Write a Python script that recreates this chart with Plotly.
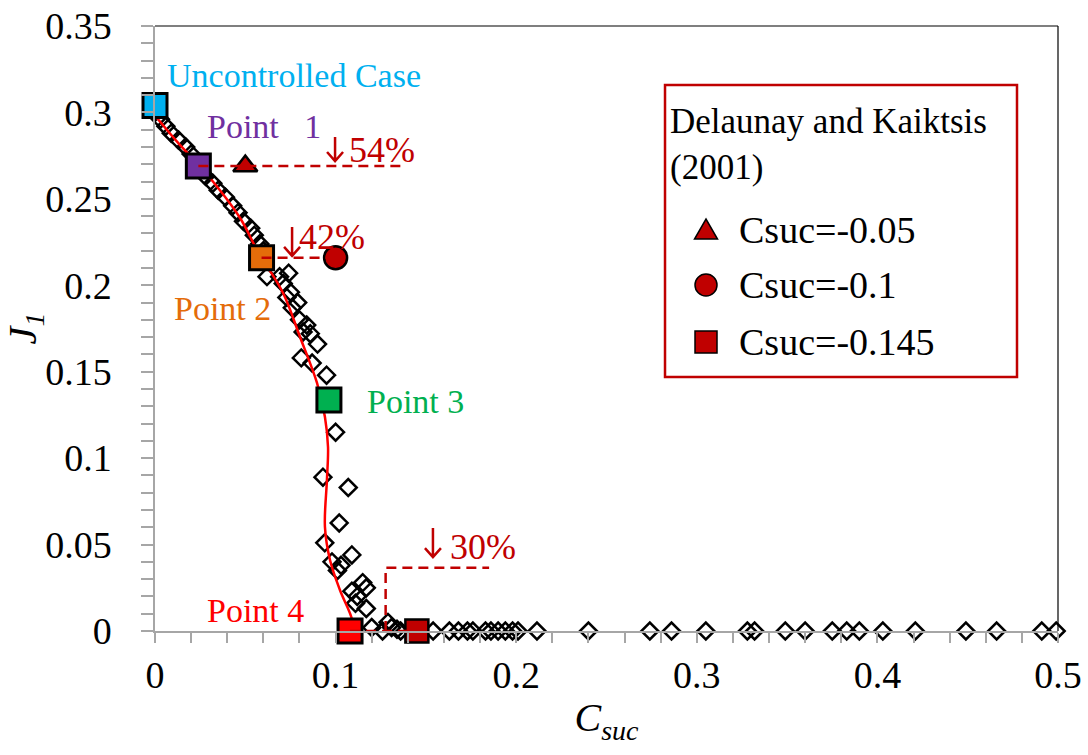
import plotly.graph_objects as go

# Measured J1 versus suction coefficient (open diamonds)
csuc_meas = [0.000, 0.003, 0.006, 0.009, 0.013, 0.017, 0.020, 0.024, 0.028, 0.032,
             0.035, 0.039, 0.043, 0.046, 0.049, 0.053, 0.055, 0.058, 0.060,
             0.062, 0.069, 0.074, 0.071, 0.075, 0.073, 0.079, 0.076, 0.080, 0.084,
             0.082, 0.086, 0.090, 0.081, 0.087, 0.095,
             0.100, 0.093, 0.107, 0.102, 0.094, 0.109, 0.098, 0.103, 0.101, 0.115,
             0.117, 0.109, 0.112, 0.117, 0.111, 0.120, 0.129, 0.126, 0.134, 0.131, 0.136,
             0.154, 0.163, 0.168, 0.173, 0.176, 0.183, 0.186, 0.190, 0.194, 0.198,
             0.201, 0.2115, 0.240, 0.274, 0.286, 0.305, 0.328, 0.332, 0.349, 0.360,
             0.375, 0.383, 0.390, 0.403, 0.421, 0.449, 0.466, 0.491, 0.499]
j1_meas = [0.300, 0.296, 0.292, 0.288, 0.284, 0.280, 0.276, 0.270, 0.263, 0.259,
           0.255, 0.251, 0.246, 0.242, 0.237, 0.233, 0.229, 0.224, 0.220,
           0.205, 0.205, 0.207, 0.201, 0.196, 0.193, 0.190, 0.187, 0.180, 0.177,
           0.173, 0.172, 0.166, 0.158, 0.155, 0.148,
           0.115, 0.089, 0.083, 0.0625, 0.051, 0.044, 0.040, 0.038, 0.035, 0.028,
           0.025, 0.023, 0.020, 0.013, 0.016, 0.002, 0.005, 0.000, 0.001, 0.002, 0.000,
           0, 0, 0, 0, 0, 0, 0, 0, 0, 0,
           0, 0, 0, 0, 0, 0, 0, 0, 0, 0,
           0, 0, 0, 0, 0, 0, 0, 0, 0]

# Fitted trend (red curve)
csuc_fit = [0.0011, 0.0138, 0.0277, 0.0471, 0.0565, 0.0709, 0.0803, 0.0897,
            0.0941, 0.0958, 0.0952, 0.0941, 0.0969, 0.1024, 0.1091, 0.1085]
j1_fit = [0.2968, 0.2812, 0.2655, 0.2389, 0.2204, 0.1955, 0.1701, 0.1435,
          0.1238, 0.1064, 0.0874, 0.0602, 0.0411, 0.0237, 0.0064, 0.0030]

# Highlighted operating points
point_names = ["Uncontrolled Case", "Point 1", "Point 2", "Point 3", "Point 4"]
point_csuc = [0.000, 0.024, 0.059, 0.0963, 0.108]
point_j1 = [0.304, 0.269, 0.216, 0.1336, 0.000]
point_colors = ["#00B0F0", "#7030A0", "#E46C0A", "#00B050", "#FF0000"]

# Delaunay and Kaiktsis (2001) reference cases
dk_labels = ["Csuc=-0.05", "Csuc=-0.1", "Csuc=-0.145"]
dk_csuc = [0.05, 0.10, 0.145]
dk_j1 = [0.269, 0.216, 0.000]
dk_symbols = ["triangle-up", "circle", "square"]
dk_sizes = [21, 23, 23]

# Reduction percentages
reductions = ["54%", "42%", "30%"]

DARK_RED = "#C00000"
FONT = "Liberation Serif"

fig = go.Figure()

fig.add_trace(go.Scatter(
    x=csuc_meas, y=j1_meas, mode="markers", showlegend=False, cliponaxis=False,
    marker=dict(symbol="diamond-open", size=13, color="black",
                line=dict(width=2.5, color="black")),
))

fig.add_trace(go.Scatter(
    x=csuc_fit, y=j1_fit, mode="lines", showlegend=False,
    line=dict(color="#FF0000", width=2.5, shape="spline", smoothing=1.0),
))

fig.add_trace(go.Scatter(
    x=point_csuc, y=point_j1, mode="markers", showlegend=False, cliponaxis=False,
    marker=dict(symbol="square", size=24, color=point_colors,
                line=dict(width=3, color="black")),
))

for lab, xv, yv, sym, sz in zip(dk_labels, dk_csuc, dk_j1, dk_symbols, dk_sizes):
    fig.add_trace(go.Scatter(
        x=[xv], y=[yv], mode="markers", name=lab, showlegend=False, cliponaxis=False,
        marker=dict(symbol=sym, size=sz, color=DARK_RED,
                    line=dict(width=2.5, color="black")),
    ))

# Dashed guide lines between controlled cases and the reference cases
dash_style = dict(color=DARK_RED, width=2.5, dash="10px,6px")
guide1_x = [point_csuc[1], 0.1384]
guide1_y = [point_j1[1], point_j1[1]]
guide2_x = [point_csuc[2], dk_csuc[1]]
guide2_y = [point_j1[2], dk_j1[1]]
guide3_x = [point_csuc[4], dk_csuc[2]]
guide3_y = [point_j1[4], dk_j1[2]]
guide4_x = [0.1277, 0.1277, 0.1850]
guide4_y = [0.000, 0.0366, 0.0366]
for gx, gy in [(guide1_x, guide1_y), (guide2_x, guide2_y),
               (guide3_x, guide3_y), (guide4_x, guide4_y)]:
    fig.add_trace(go.Scatter(x=gx, y=gy, mode="lines", showlegend=False,
                             cliponaxis=False, line=dash_style))

# Point labels
label_pos = [(0.0055, 0.3216, "Uncontrolled Case"),
             (0.0277, 0.2921, "Point\u00a0\u00a0 1"),
             (0.0094, 0.1863, "Point 2"),
             (0.1163, 0.1325, "Point 3"),
             (0.0277, 0.0121, "Point 4")]
for (lx, ly, txt), col in zip(label_pos, point_colors):
    fig.add_annotation(x=lx, y=ly, text=txt, showarrow=False, xanchor="left",
                       yanchor="middle", font=dict(family=FONT, size=34, color=col))

# Reduction labels: a downward arrow (drawn from its tip upwards) and the percentage
arrow_tips = [(0.0997, 0.2713, 25), (0.0759, 0.2164, 30), (0.1539, 0.0422, 30)]
pct_pos = [(0.1063, 0.2783), (0.0786, 0.2279), (0.1622, 0.0486)]
for (axx, axy, length), (px, py), txt in zip(arrow_tips, pct_pos, reductions):
    fig.add_shape(type="path", xref="x", yref="y", xsizemode="pixel",
                  ysizemode="pixel", xanchor=axx, yanchor=axy,
                  path=f"M0,{length} L0,1 M-8,10 L0,1 L8,10",
                  line=dict(color=DARK_RED, width=2.5))
    fig.add_annotation(x=px, y=py, text=txt, showarrow=False,
                       xanchor="left", yanchor="middle",
                       font=dict(family=FONT, size=36, color=DARK_RED))

# Legend box for the Delaunay and Kaiktsis cases
fig.add_shape(type="rect", xref="paper", yref="paper",
              x0=0.5648, x1=0.9546, y0=0.4198, y1=0.9025,
              line=dict(color=DARK_RED, width=2.5), fillcolor="white", layer="below")
fig.add_annotation(xref="paper", yref="paper", x=0.568, y=0.878,
                   text="Delaunay and Kaiktsis<br>(2001)", showarrow=False,
                   xanchor="left", yanchor="top", align="left",
                   font=dict(family=FONT, size=35, color="black"))
leg_sym_x = 0.6102
leg_text_x = 0.6445
leg_rows = [0.6628, 0.5719, 0.4777]
fig.add_shape(type="path", xref="paper", yref="paper", xsizemode="pixel",
              ysizemode="pixel", xanchor=leg_sym_x, yanchor=leg_rows[0],
              path="M-11.5,-9 L11.5,-9 L0,11 Z", fillcolor=DARK_RED,
              line=dict(color="black", width=1.5))
fig.add_shape(type="circle", xref="paper", yref="paper", xsizemode="pixel",
              ysizemode="pixel", xanchor=leg_sym_x, yanchor=leg_rows[1],
              x0=-11, x1=11, y0=-11, y1=11, fillcolor=DARK_RED,
              line=dict(color="black", width=1.5))
fig.add_shape(type="rect", xref="paper", yref="paper", xsizemode="pixel",
              ysizemode="pixel", xanchor=leg_sym_x, yanchor=leg_rows[2],
              x0=-11, x1=11, y0=-11, y1=11, fillcolor=DARK_RED,
              line=dict(color="black", width=1.5))
for ry, lab in zip(leg_rows, dk_labels):
    fig.add_annotation(xref="paper", yref="paper", x=leg_text_x, y=ry, text=lab,
                       showarrow=False, xanchor="left", yanchor="middle",
                       font=dict(family=FONT, size=38, color="black"))

# Black frame on the top and right sides of the plot area
fig.add_shape(type="line", xref="paper", yref="paper", x0=0, x1=1, y0=1, y1=1,
              line=dict(color="black", width=1.2))
fig.add_shape(type="line", xref="paper", yref="paper", x0=1, x1=1, y0=0, y1=1,
              line=dict(color="black", width=1.2))

axis_grey = "#A6A6A6"
fig.update_xaxes(
    range=[0, 0.5], dtick=0.1, tick0=0, showgrid=False, zeroline=False,
    showline=True, linecolor=axis_grey, linewidth=1.5,
    ticks="outside", ticklen=10, tickwidth=1.5, tickcolor=axis_grey,
    minor=dict(dtick=0.02, ticks="outside", ticklen=10, tickwidth=1.5,
               tickcolor=axis_grey, showgrid=False),
    tickfont=dict(family=FONT, size=38, color="black"),
    title=dict(text="<i>C<sub>suc</sub></i>", standoff=8,
               font=dict(family=FONT, size=40, color="black")),
)
fig.update_yaxes(
    range=[0, 0.35], dtick=0.05, tick0=0, showgrid=False, zeroline=False,
    showline=True, linecolor=axis_grey, linewidth=1.5,
    ticks="outside", ticklen=12, tickwidth=1.5, tickcolor=axis_grey,
    minor=dict(dtick=0.01, ticks="outside", ticklen=12, tickwidth=1.5,
               tickcolor=axis_grey, showgrid=False),
    tickfont=dict(family=FONT, size=38, color="black"),
    ticklabelstandoff=22,
    title=dict(text="<i>J<sub>1</sub></i>", standoff=10,
               font=dict(family=FONT, size=40, color="black")),
)

fig.update_layout(
    width=1088, height=755,
    margin=dict(l=155, r=30, t=26, b=124, autoexpand=False),
    plot_bgcolor="white", paper_bgcolor="white",
    font=dict(family=FONT),
    showlegend=False,
)

fig.write_html("out.html")
